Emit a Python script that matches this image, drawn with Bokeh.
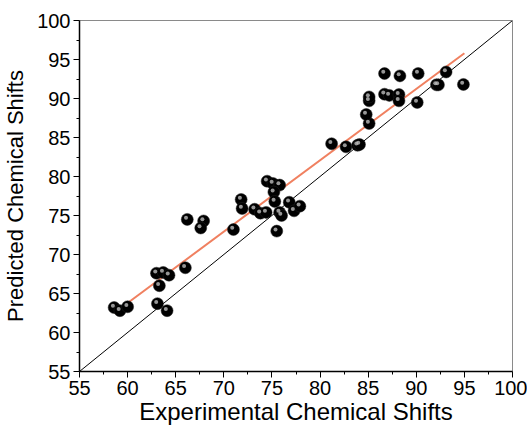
from bokeh.plotting import figure
from bokeh.models import ColumnDataSource, Range1d, FixedTicker
from bokeh.transform import dodge
from bokeh.embed import file_html
from bokeh.resources import INLINE

exp_shift = [58.6, 59.2, 60.0, 63.0, 63.7, 64.3, 63.3, 63.1, 64.1, 66.0,
             66.2, 67.9, 67.6, 71.0, 71.8, 71.9, 73.2, 73.8, 74.4, 74.5,
             75.1, 75.8, 75.2, 75.3, 75.8, 76.0, 75.5, 76.8, 77.3, 77.9,
             81.2, 82.7, 83.9, 84.1, 85.1, 84.8, 85.1, 85.1, 86.7, 87.2,
             86.7, 88.3, 88.2, 88.2, 90.2, 90.1, 92.1, 92.3, 93.1, 94.9]
pred_shift = [63.2, 62.8, 63.3, 67.6, 67.7, 67.35, 66.0, 63.7, 62.8, 68.3,
              74.5, 74.3, 73.4, 73.2, 77.05, 75.9, 75.8, 75.3, 75.4, 79.4,
              79.1, 78.9, 78.0, 76.8, 75.4, 75.0, 73.0, 76.7, 75.6, 76.2,
              84.2, 83.8, 84.0, 84.1, 86.8, 87.95, 89.7, 90.2, 90.55, 90.4,
              93.2, 92.9, 90.5, 89.7, 93.2, 89.5, 91.75, 91.75, 93.4, 91.8]

fit_x = [58.6, 95.0]
fit_y = [62.5, 95.8]
ideal_x = [55, 100]
ideal_y = [55, 100]
ticks = [55, 60, 65, 70, 75, 80, 85, 90, 95, 100]

p = figure(width=527, height=427, output_backend="svg", toolbar_location=None,
           x_range=Range1d(55, 100), y_range=Range1d(55, 100),
           min_border_left=79, min_border_right=15, min_border_top=20, min_border_bottom=56)
p.grid.visible = False
p.background_fill_color = "white"
p.border_fill_color = "white"
p.outline_line_color = "#8a8a8a"
p.outline_line_width = 1

for ax in (p.xaxis[0], p.yaxis[0]):
    ax.ticker = FixedTicker(ticks=ticks, minor_ticks=[57.5 + 5 * i for i in range(9)])
    ax.axis_line_color = "black"
    ax.axis_line_width = 1.5
    ax.major_tick_line_color = "black"
    ax.minor_tick_line_color = "black"
    ax.major_tick_out = 6
    ax.major_tick_in = 0
    ax.minor_tick_out = 3
    ax.minor_tick_in = 0
    ax.major_label_text_font = "Liberation Sans"
    ax.major_label_text_font_size = "20px"
    ax.major_label_text_color = "black"
    ax.axis_label_text_font = "Liberation Sans"
    ax.axis_label_text_font_style = "normal"
    ax.axis_label_text_color = "black"

p.xaxis.axis_label = "Experimental Chemical Shifts"
p.yaxis.axis_label = "Predicted Chemical Shifts"
p.xaxis.axis_label_text_font_size = "24px"
p.yaxis.axis_label_text_font_size = "22px"
p.xaxis.axis_label_standoff = 0
p.yaxis.axis_label_standoff = 6
p.xaxis.major_label_standoff = 3
p.yaxis.major_label_standoff = 3

p.line(ideal_x, ideal_y, line_color="black", line_width=1)
p.line(fit_x, fit_y, line_color="#f08060", line_width=2)

src = ColumnDataSource(dict(x=exp_shift, y=pred_shift))
p.scatter("x", "y", source=src, size=12, fill_color="black", line_color="#222222", line_width=0.5)
p.scatter(dodge("x", -0.13), dodge("y", 0.22), source=src, size=4,
          fill_color="#bbbbbb", fill_alpha=0.8, line_color=None)

open("out.html", "w").write(file_html(p, INLINE))
